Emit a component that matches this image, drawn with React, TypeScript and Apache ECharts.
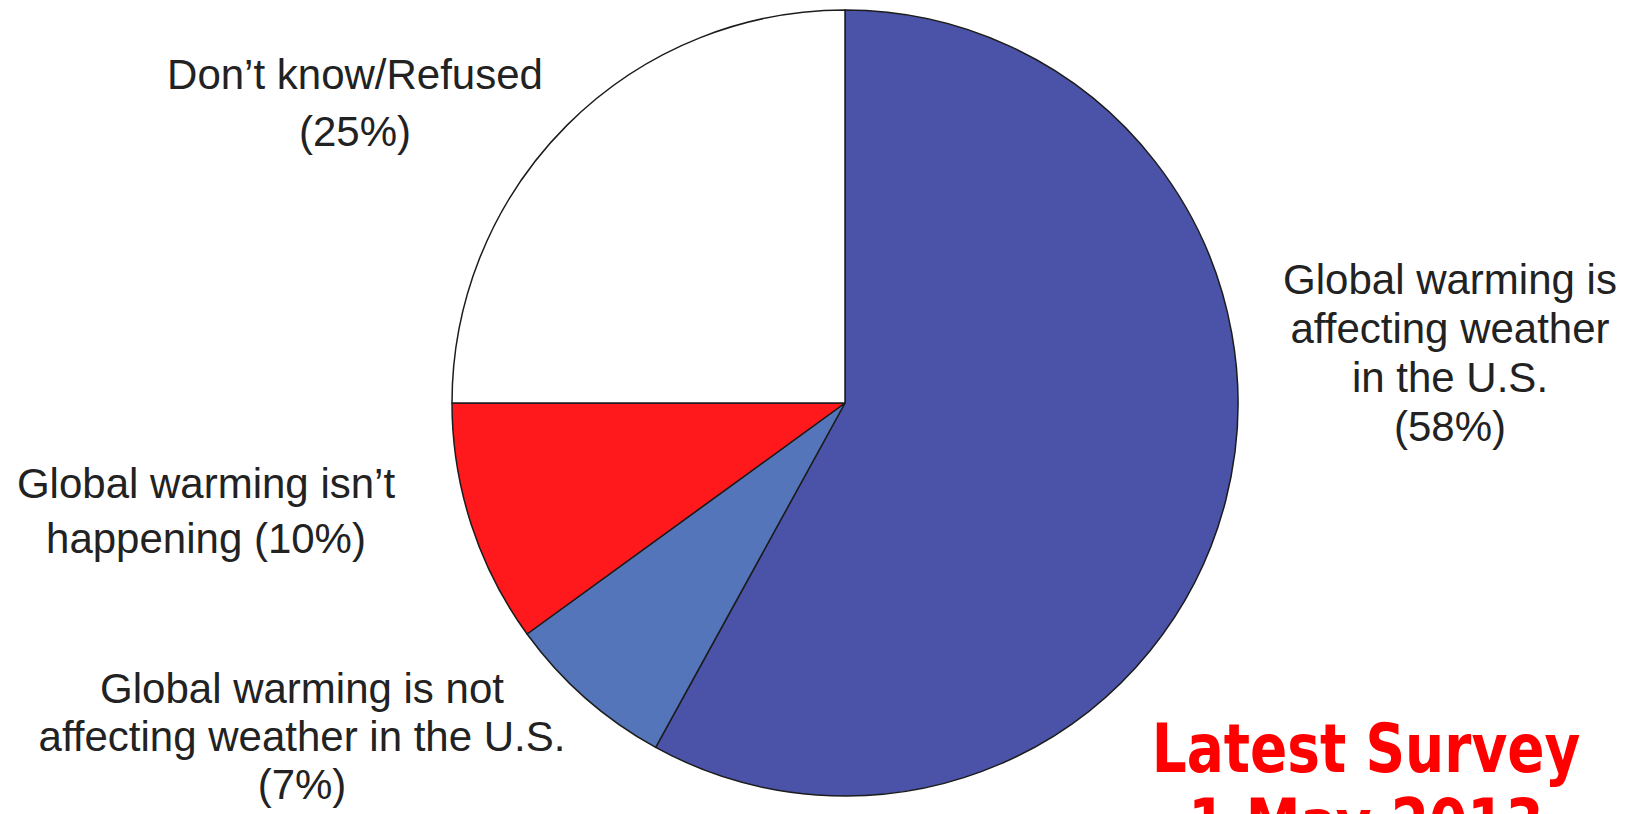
import React, { useEffect, useRef } from "react";
import * as echarts from "echarts";

const categories = [
  "Global warming is\naffecting weather\nin the U.S.",
  "Global warming is not\naffecting weather in the U.S.",
  "Global warming isn’t\nhappening",
  "Don’t know/Refused",
];
const values = [58, 7, 10, 25];
const colors = ["#4A53A8", "#5575BA", "#FF181C", "#FFFFFF"];
const percentOnNewLine = [true, true, false, true];
const stampLines = ["Latest Survey", "1 May 2013"];

const labelPos = [
  { x: 1450, y: 353, lh: 49 },
  { x: 302, y: 736, lh: 48 },
  { x: 206, y: 511, lh: 55 },
  { x: 355, y: 103, lh: 57 },
];

export default function App() {
  const ref = useRef<HTMLDivElement>(null);
  useEffect(() => {
    if (!ref.current) return;
    const chart = echarts.init(ref.current, null, { renderer: "svg" });
    const data = categories.map((name, i) => ({
      name,
      value: values[i],
      itemStyle: { color: colors[i] },
      label: { lineHeight: labelPos[i].lh },
    }));
    const stampFont = "bold 55px 'Comic Sans MS', 'DejaVu Sans', sans-serif";
    chart.setOption({
      animation: false,
      backgroundColor: "#ffffff",
      series: [
        {
          type: "pie",
          center: [845, 403],
          radius: 393,
          startAngle: 90,
          clockwise: true,
          silent: true,
          itemStyle: { borderColor: "#1c1c1c", borderWidth: 1.5 },
          label: {
            show: true,
            position: "outside",
            color: "#222222",
            fontFamily: "'Liberation Sans', Arial, sans-serif",
            fontSize: 42,
            align: "center",
            formatter: (p: any) =>
              p.name + (percentOnNewLine[p.dataIndex] ? "\n" : " ") + "(" + p.value + "%)",
          },
          labelLine: { show: false },
          labelLayout: (params: any) => {
            const pos = labelPos[params.dataIndex];
            return { x: pos.x, y: pos.y, align: "center", verticalAlign: "middle" };
          },
          data,
        },
      ],
      graphic: stampLines.map((line, i) => ({
        type: "text",
        x: 1366,
        y: 748 + i * 75,
        scaleY: 1.22,
        style: {
          text: line,
          fill: "#FF0000",
          font: stampFont,
          align: "center",
          verticalAlign: "middle",
        },
      })),
    });
    return () => chart.dispose();
  }, []);
  return (
    <div
      ref={ref}
      style={{ position: "fixed", left: 0, top: 0, width: 1636, height: 814 }}
    />
  );
}
